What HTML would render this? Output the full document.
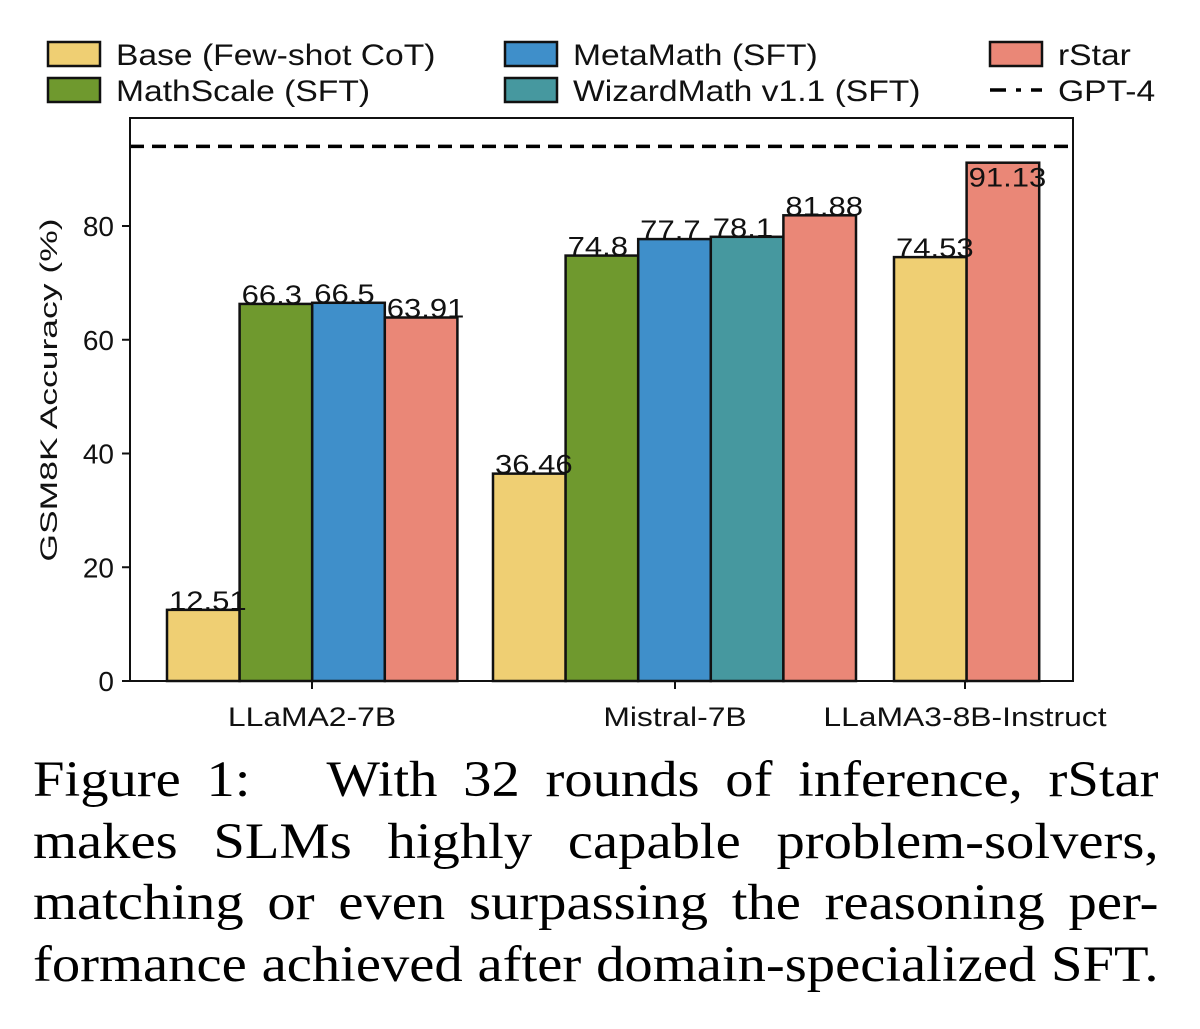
<!DOCTYPE html>
<html><head><meta charset="utf-8"><style>
html,body{margin:0;padding:0;background:#fff;width:1200px;height:1029px;overflow:hidden}
.cap{position:absolute;left:33px;top:750px;width:1014px;font-family:"Liberation Serif",serif;font-size:51px;line-height:61.5px;color:#000;transform:scaleX(1.11);transform-origin:0 0}
.cap div{text-align:justify;text-align-last:justify;white-space:nowrap}
</style></head><body>
<svg id="chart" width="1200" height="740" style="position:absolute;left:0;top:0" font-family="Liberation Sans, sans-serif"></svg>
<div class="cap">
<div>Figure 1:&nbsp;&nbsp; With 32 rounds of inference, rStar</div>
<div>makes SLMs highly capable problem-solvers,</div>
<div>matching or even surpassing the reasoning per-</div>
<div>formance achieved after domain-specialized SFT.</div>
</div>
<script>
const groups=["LLaMA2-7B","Mistral-7B","LLaMA3-8B-Instruct"];
const seriesNames=["Base (Few-shot CoT)","MathScale (SFT)","MetaMath (SFT)","WizardMath v1.1 (SFT)","rStar"];
const seriesColors=["#efcf73","#6f992e","#3f8fca","#46989f","#ea8777"];
const groupSeries=[[0,1,2,4],[0,1,2,3,4],[0,4]];
const groupValues=[[12.51,66.3,66.5,63.91],[36.46,74.8,77.7,78.1,81.88],[74.53,91.13]];
const groupLabels=[["12.51","66.3","66.5","63.91"],["36.46","74.8","77.7","78.1","81.88"],["74.53","91.13"]];
const groupStart=[167,493,894];
const yTicks=[0,20,40,60,80];
const gpt4=94;
const NS="http://www.w3.org/2000/svg";
const svg=document.getElementById('chart');
const X0=130,X1=1073,Y0=681,Y1=118,BW=72.6;
const y=v=>Y0-v*(455/80);
function mk(t,a,txt){const e=document.createElementNS(NS,t);for(const k in a)e.setAttribute(k,a[k]);if(txt!=null)e.textContent=txt;svg.appendChild(e);return e;}
function stretch(e,x,s){e.setAttribute('transform','translate('+x+',0) scale('+s+',1) translate('+(-x)+',0)');}
groupValues.forEach((vals,g)=>{vals.forEach((v,i)=>{
 const x=groupStart[g]+i*BW;
 const r=mk('rect',{x:x,y:y(v),width:BW,height:Y0-y(v),fill:seriesColors[groupSeries[g][i]],stroke:'#111','stroke-width':2.5});
 
 
});});
groupValues.forEach((vals,g)=>{vals.forEach((v,i)=>{
 const x=groupStart[g]+i*BW;
 const t=mk('text',{x:x+2,y:y(v)+(g==2&&i==1?24:0),'font-size':27,'text-anchor':'start',fill:'#111'},groupLabels[g][i]);
 stretch(t,x+2,1.15);
 
 
});});
const gl=mk('line',{x1:X0,x2:X1,y1:y(gpt4),y2:y(gpt4),stroke:'#000','stroke-width':3.5,'stroke-dasharray':'14,8'});


const fr=mk('rect',{x:X0,y:Y1,width:X1-X0,height:Y0-Y1,fill:'none',stroke:'#111','stroke-width':2});


yTicks.forEach(v=>{
 mk('line',{x1:X0-8,x2:X0,y1:y(v),y2:y(v),stroke:'#111','stroke-width':2});
 const t=mk('text',{x:X0-16,y:y(v)+10,'font-size':28,'text-anchor':'end',fill:'#111'},String(v));
 
 
});
const xc=[312,675,965];
groups.forEach((g,i)=>{
 mk('line',{x1:xc[i],x2:xc[i],y1:Y0,y2:Y0+8,stroke:'#111','stroke-width':2});
 const t=mk('text',{x:xc[i],y:Y0+45,'font-size':27,'text-anchor':'middle',fill:'#111'},g);
 stretch(t,xc[i],1.18);
 
 
});
const yt=mk('text',{x:0,y:0,'font-size':24,'text-anchor':'middle',fill:'#111',transform:'translate(57,390) rotate(-90) scale(1.48,1)'},'GSM8K Accuracy (%)');


const leg=[[0,48,42],[1,48,78],[2,505,42],[3,505,78],[4,990,42]];
leg.forEach(([s,x,yy])=>{
 const r=mk('rect',{x:x,y:yy,width:52,height:24,fill:seriesColors[s],stroke:'#111','stroke-width':2.5});
 
 
 const t=mk('text',{x:x+68,y:yy+23,'font-size':29.5,fill:'#111'},seriesNames[s]);
 stretch(t,x+68,1.14);
 
 
});
mk('line',{x1:990,x2:1042,y1:90,y2:90,stroke:'#000','stroke-width':3.5,'stroke-dasharray':'16,10,5,10'});
const gt=mk('text',{x:1058,y:101,'font-size':29.5,fill:'#111'},'GPT-4');
stretch(gt,1058,1.14);


</script>
</body></html>
